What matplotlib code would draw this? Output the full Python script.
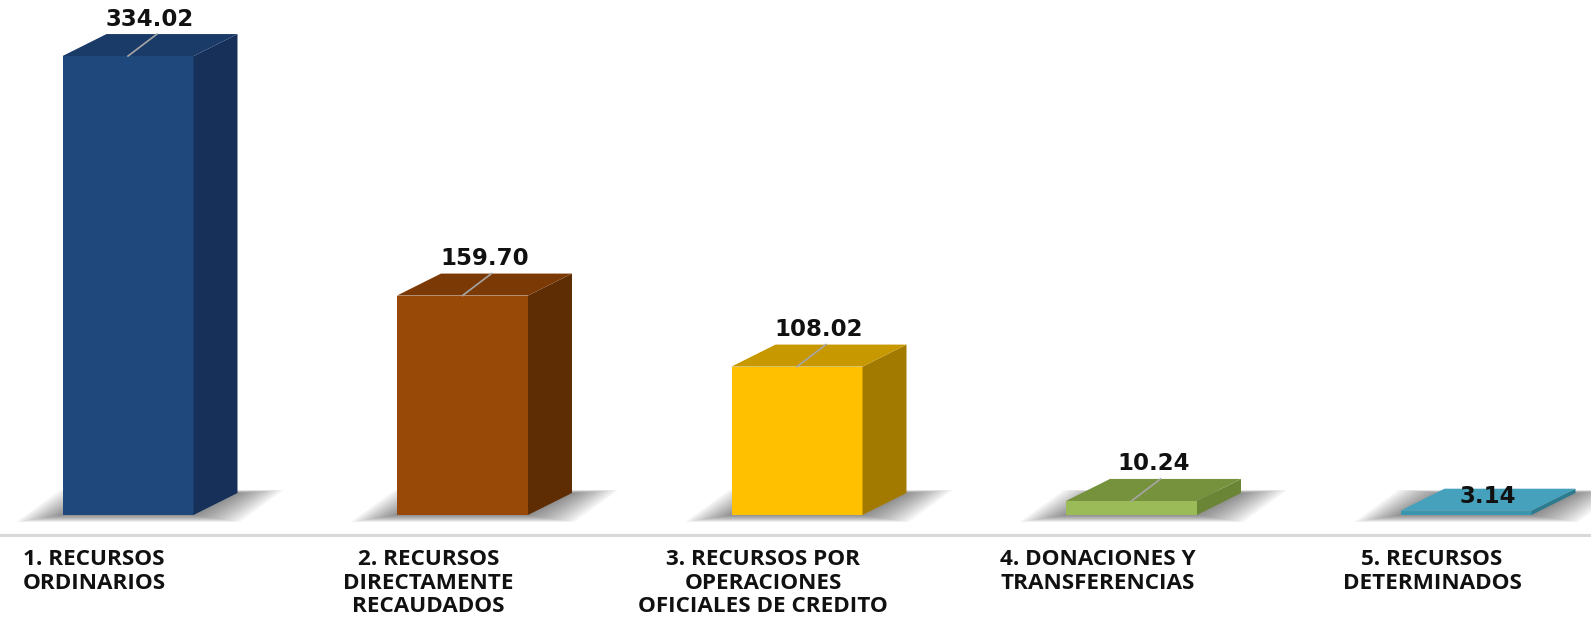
"""Recreate the 3D column chart of funding sources (RECURSOS)."""

import matplotlib

matplotlib.use("Agg")
import matplotlib.pyplot as plt
from matplotlib.patches import Polygon, Rectangle

# ---- data -------------------------------------------------------------
CATEGORIES = [
    "1. RECURSOS\nORDINARIOS",
    "2. RECURSOS\nDIRECTAMENTE\nRECAUDADOS",
    "3. RECURSOS POR\nOPERACIONES\nOFICIALES DE CREDITO",
    "4. DONACIONES Y\nTRANSFERENCIAS",
    "5. RECURSOS\nDETERMINADOS",
]
VALUES = [334.02, 159.70, 108.02, 10.24, 3.14]
VALUE_LABELS = ["334.02", "159.70", "108.02", "10.24", "3.14"]

# front / side / top face colours per bar
FRONT_COLORS = ["#1F487C", "#984807", "#FFC000", "#9BBB59", "#3A95AE"]
SIDE_COLORS = ["#16305A", "#5F2D03", "#A37A00", "#6A8535", "#2E7A8F"]
TOP_COLORS = ["#1A3A68", "#7A3905", "#C89800", "#76923C", "#46A2BC"]

# ---- layout (pixels of the 1591x624 canvas) ---------------------------
W_PX, H_PX = 1591, 624
SLOT_PX = 334.5          # distance between bar centres
FIRST_CENTER_PX = 128    # x of first bar centre
BASE_PX = 515            # y (from top) of bar bottoms
PX_PER_UNIT = 1.374      # vertical pixels per value unit
BAR_W_PX = 131
DEPTH_X_PX = 44
DEPTH_Y_PX = 22


def px_x(p):
    return p / SLOT_PX


def px_y(p):
    return p / PX_PER_UNIT


fig = plt.figure(figsize=(W_PX / 100, H_PX / 100), dpi=100)
ax = fig.add_axes([0, 0, 1, 1])
ax.set_xlim(-FIRST_CENTER_PX / SLOT_PX, (W_PX - FIRST_CENTER_PX) / SLOT_PX)
ax.set_ylim(-(H_PX - BASE_PX) / PX_PER_UNIT, BASE_PX / PX_PER_UNIT)
ax.axis("off")

w = px_x(BAR_W_PX)
dx = px_x(DEPTH_X_PX)
dy = px_y(DEPTH_Y_PX)

# floor line
ax.axhline(-px_y(20), color="#D9D9D9", linewidth=2.2, zorder=1)

for i, (v, label) in enumerate(zip(VALUES, VALUE_LABELS)):
    x0, x1 = i - w / 2, i + w / 2

    # soft floor shadow: stacked translucent parallelograms
    n_layers = 14
    for k in range(n_layers):
        f = 1 - k / n_layers
        e = px_x(46) * f
        yf = -px_y(7) * f
        yb = dy + px_y(3) * f
        ax.add_patch(
            Polygon(
                [(x0 - e, yf), (x1 + e, yf), (x1 + dx + e, yb), (x0 + dx - e, yb)],
                closed=True,
                facecolor="#3A3A3A",
                edgecolor="none",
                alpha=0.05,
                zorder=2,
            )
        )

    # faces
    ax.add_patch(
        Rectangle((x0, 0), w, v, facecolor=FRONT_COLORS[i], edgecolor="none", zorder=4)
    )
    ax.add_patch(
        Polygon(
            [(x1, 0), (x1 + dx, dy), (x1 + dx, v + dy), (x1, v)],
            closed=True,
            facecolor=SIDE_COLORS[i],
            edgecolor="none",
            zorder=4,
        )
    )
    ax.add_patch(
        Polygon(
            [(x0, v), (x1, v), (x1 + dx, v + dy), (x0 + dx, v + dy)],
            closed=True,
            facecolor=TOP_COLORS[i],
            edgecolor="none",
            zorder=4,
        )
    )

    # value labels (tiny bars carry the label on the top face)
    if v < 5:
        ax.text(
            i + dx / 2, v + dy / 2 + px_y(3), label,
            ha="center", va="center", fontsize=16.5, fontweight="bold",
            family="DejaVu Sans", color="#111111", zorder=6,
        )
    else:
        ax.plot(
            [i, i + px_x(29)], [v, v + px_y(22)],
            color="#A6A6A6", linewidth=1.2, zorder=5,
        )
        ax.text(
            i + dx / 2, v + dy + px_y(15), label,
            ha="center", va="center", fontsize=16.5, fontweight="bold",
            family="DejaVu Sans", color="#111111", zorder=6,
        )

# category labels
for i, cat in enumerate(CATEGORIES):
    ax.text(
        i - px_x(34), -px_y(34), cat,
        ha="center", va="top", multialignment="center",
        fontsize=16.2, fontweight="bold", family="Open Sans",
        color="#111111", linespacing=1.17, zorder=6,
    )

fig.savefig("out.png", dpi=100, facecolor="white")
plt.close(fig)
